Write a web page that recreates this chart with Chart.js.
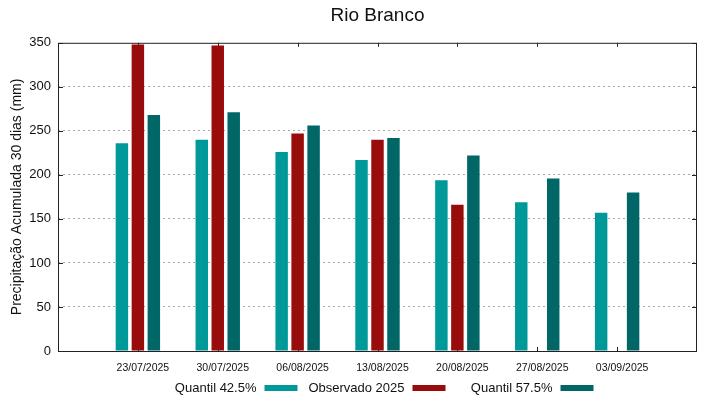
<!DOCTYPE html>
<html>
<head>
<meta charset="utf-8">
<script src="https://cdn.jsdelivr.net/npm/chart.js@4"></script>
<style>
  html, body { margin: 0; padding: 0; background: #fff; }
  #wrap { width: 719px; height: 399px; }
</style>
</head>
<body>
<div id="wrap"><canvas id="chart"></canvas></div>
<script>
// values (mm)
const dates = ["23/07/2025", "30/07/2025", "06/08/2025", "13/08/2025", "20/08/2025", "27/08/2025", "03/09/2025"];
const quantil425 = [236, 240, 226, 217, 194, 169, 157];
const observado2025 = [348, 347, 247, 240, 166, null, null];
const quantil575 = [268, 271, 256, 242, 222, 196, 180];
const yTicks = [0, 50, 100, 150, 200, 250, 300, 350];

const FONT = "'Liberation Sans', Arial, sans-serif";

// one empty slot on each side, like the gnuplot x range
const pad = (arr) => [null, ...arr, null];
const labels = ["", ...dates, ""];

// box around the plot; inward ticks go under the bars, border on top
const frame = {
  id: "frame",
  beforeDatasetsDraw(chart) {
    const { ctx, chartArea: a, scales } = chart;
    ctx.save();
    ctx.strokeStyle = "#222";
    ctx.lineWidth = 1;
    ctx.beginPath();
    yTicks.forEach((v) => {
      const y = Math.round(scales.y.getPixelForValue(v)) + 0.5;
      ctx.moveTo(a.left, y); ctx.lineTo(a.left + 5, y);
      ctx.moveTo(a.right, y); ctx.lineTo(a.right - 5, y);
    });
    labels.forEach((l, i) => {
      if (!l) return;
      const x = Math.round(scales.x.getPixelForValue(i)) + 0.5;
      ctx.moveTo(x, a.bottom); ctx.lineTo(x, a.bottom - 4);
      ctx.moveTo(x, a.top); ctx.lineTo(x, a.top + 4);
    });
    ctx.stroke();
    ctx.restore();
  },
  afterDraw(chart) {
    const { ctx, chartArea: a } = chart;
    ctx.save();
    ctx.strokeStyle = "#222";
    ctx.lineWidth = 1;
    ctx.strokeRect(a.left + 0.5, a.top + 0.5, a.right - a.left - 1, a.bottom - a.top);
    ctx.restore();
  }
};

// gnuplot-style key: text then sample, fixed column width
const key = {
  id: "key",
  afterDraw(chart) {
    const { ctx, chartArea: a } = chart;
    const mid = (a.left + a.right) / 2;
    const col = 148;
    const y = 388;
    ctx.save();
    ctx.font = "13px " + FONT;
    ctx.textAlign = "right";
    ctx.textBaseline = "middle";
    chart.data.datasets.forEach((ds, i) => {
      const right = mid + 27 + (i - 1) * col;
      ctx.fillStyle = "#111";
      ctx.fillText(ds.label, right, y);
      ctx.fillStyle = ds.backgroundColor;
      ctx.fillRect(right + 8, y - 3, 33, 6);
    });
    ctx.restore();
  }
};

new Chart(document.getElementById("chart"), {
  type: "bar",
  data: {
    labels: labels,
    datasets: [
      { label: "Quantil 42.5%", data: pad(quantil425), backgroundColor: "#009999" },
      { label: "Observado 2025", data: pad(observado2025), backgroundColor: "#990c0c" },
      { label: "Quantil 57.5%", data: pad(quantil575), backgroundColor: "#006666" },
    ],
  },
  options: {
    responsive: true,
    maintainAspectRatio: false,
    animation: false,
    categoryPercentage: 0.6,
    barPercentage: 0.78,
    layout: { padding: { left: 0, right: 22, top: 0, bottom: 22 } },
    plugins: {
      legend: { display: false },
      tooltip: { enabled: false },
      title: {
        display: true,
        text: "Rio Branco",
        fullSize: false,
        color: "#111",
        font: { family: FONT, size: 19, weight: "normal" },
        padding: { top: 4, bottom: 16 },
      },
    },
    scales: {
      x: {
        offset: false,
        grid: { display: false, drawTicks: false },
        border: { display: false },
        ticks: {
          color: "#111",
          font: { family: FONT, size: 10.5 },
          padding: 11,
          labelOffset: 5,
          maxRotation: 0,
          autoSkip: false,
        },
        afterFit(s) { s.height = 26; },
      },
      y: {
        min: 0,
        max: 350,
        afterBuildTicks(s) { s.ticks = yTicks.map((v) => ({ value: v })); },
        grid: {
          color: (c) => (c.tick && (c.tick.value === 0 || c.tick.value === 350) ? "rgba(0,0,0,0)" : "#a8a8a8"),
          drawTicks: false,
        },
        border: { display: false, dash: [2, 3] },
        ticks: {
          color: "#111",
          font: { family: FONT, size: 13 },
          padding: 7,
        },
        title: {
          display: true,
          text: "Precipitação Acumulada 30 dias (mm)",
          color: "#111",
          font: { family: FONT, size: 14 },
          padding: { top: 9, bottom: 2 },
        },
        afterFit(s) { s.width = 58; },
      },
    },
  },
  plugins: [frame, key],
});
</script>
</body>
</html>
